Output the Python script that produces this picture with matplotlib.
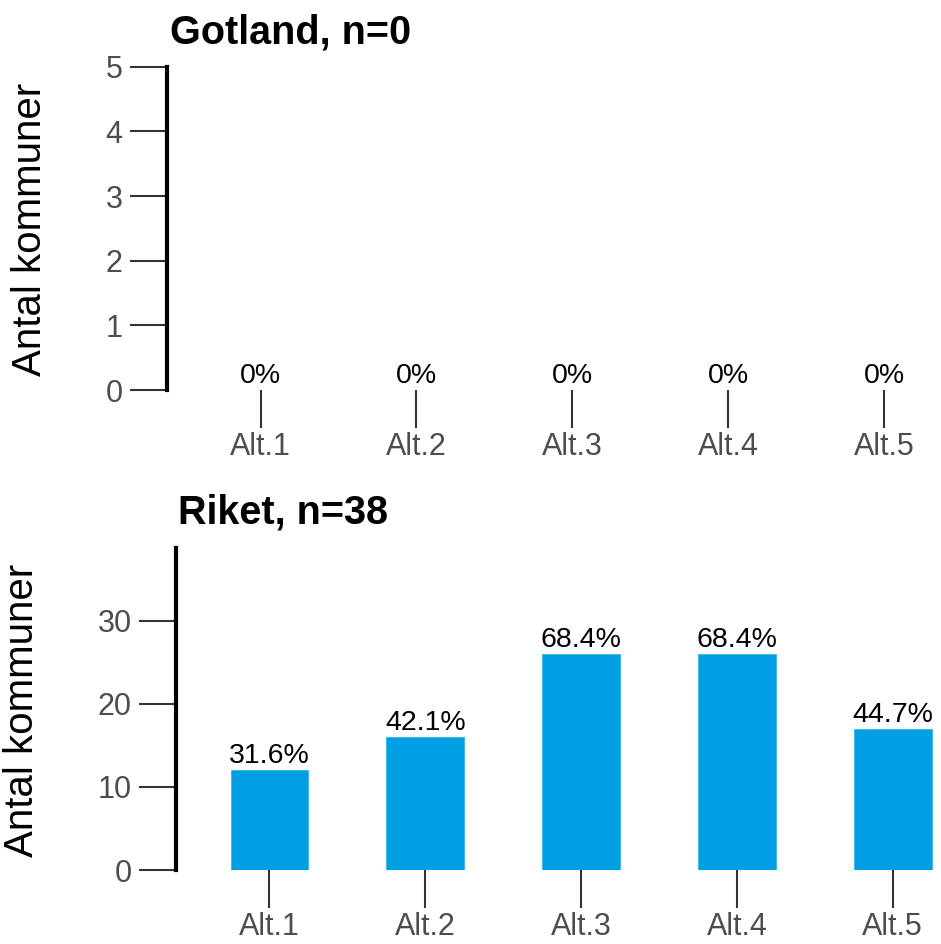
import matplotlib
matplotlib.use("Agg")
import matplotlib.pyplot as plt

plt.rcParams['font.family'] = ['Liberation Sans', 'DejaVu Sans']

# data
categories = ['Alt.1', 'Alt.2', 'Alt.3', 'Alt.4', 'Alt.5']
gotland_counts = [0, 0, 0, 0, 0]
gotland_n = 0
riket_counts = [12, 16, 26, 26, 17]
riket_n = 38

bar_color = '#009FE3'
tick_gray = '#4D4D4D'

W, H = 941, 944
fig = plt.figure(figsize=(W / 100, H / 100), dpi=100)


def px(x0, y0, x1, y1):
    # convert pixel box (top-left origin) to figure fraction rect
    return [x0 / W, 1 - y1 / H, (x1 - x0) / W, (y1 - y0) / H]


def style_axes(ax):
    for s in ['top', 'right', 'bottom']:
        ax.spines[s].set_visible(False)
    ax.spines['left'].set_linewidth(3)
    ax.spines['left'].set_color('black')
    ax.tick_params(axis='y', length=27, width=1.5, color='#333333',
                   labelcolor=tick_gray, labelsize=22, pad=5)
    ax.tick_params(axis='x', length=27, width=1.5, color='#333333',
                   labelcolor=tick_gray, labelsize=22, pad=3)


def percent_labels(ax, counts, n):
    pos = range(1, len(counts) + 1)
    for x, c in zip(pos, counts):
        pct = 0 if n == 0 else 100 * c / n
        txt = '0%' if pct == 0 else f'{pct:.1f}%'
        ax.annotate(txt, (x, c), xytext=(0, 5), textcoords='offset points',
                    ha='center', va='baseline', fontsize=20.5, color='black',
                    annotation_clip=False)


x = list(range(1, len(categories) + 1))

# top panel: Gotland
ax1 = fig.add_axes(px(167, 66.7, 941, 390))
ax1.bar(x, gotland_counts, width=0.5, color=bar_color)
ax1.set_xlim(0.4, 5.366)
ax1.set_ylim(0, 5)
ax1.set_yticks([0, 1, 2, 3, 4, 5])
ax1.set_xticks(x)
ax1.set_xticklabels(categories)
style_axes(ax1)
percent_labels(ax1, gotland_counts, gotland_n)

# bottom panel: Riket
ax2 = fig.add_axes(px(176, 547.7, 941, 870))
ax2.bar(x, riket_counts, width=0.5, color=bar_color, edgecolor='#33B5EA', linewidth=0.6)
ax2.set_xlim(0.4, 5.31)
ax2.set_ylim(0, 38.8)
ax2.set_yticks([0, 10, 20, 30])
ax2.set_xticks(x)
ax2.set_xticklabels(categories)
style_axes(ax2)
percent_labels(ax2, riket_counts, riket_n)

# titles
fig.text(170 / W, 1 - 43 / H, f'Gotland, n={gotland_n}', fontsize=28.5,
         fontweight='bold', ha='left', va='baseline')
fig.text(178 / W, 1 - 523 / H, f'Riket, n={riket_n}', fontsize=28.5,
         fontweight='bold', ha='left', va='baseline')

# y labels
fig.text(30 / W, 1 - 229 / H, 'Antal kommuner', fontsize=29, rotation=90,
         ha='center', va='center')
fig.text(22 / W, 1 - 710 / H, 'Antal kommuner', fontsize=29, rotation=90,
         ha='center', va='center')

fig.savefig('out.png', dpi=100)
